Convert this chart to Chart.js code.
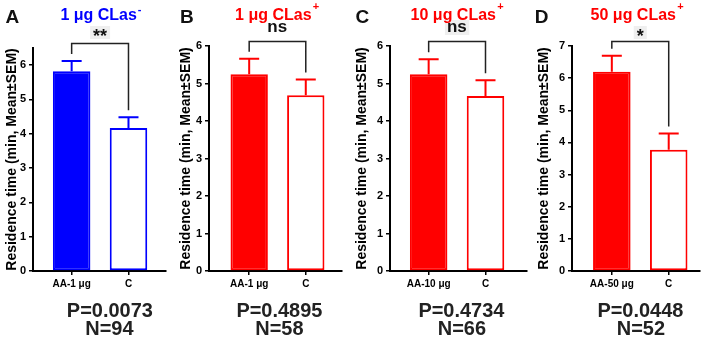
<!DOCTYPE html>
<html>
<head>
<meta charset="utf-8">
<script src="https://cdn.jsdelivr.net/npm/chart.js@4"></script>
<style>
html, body { margin: 0; padding: 0; background: #fff; }
#wrap { position: relative; width: 708px; height: 338px; overflow: hidden; }
#wrap canvas { position: absolute; top: 0; }
</style>
</head>
<body>
<div id="wrap"></div>
<script>
// values
var panelLetters = ['A', 'B', 'C', 'D'];
var titles = ['1 μg CLas', '1 μg CLas', '10 μg CLas', '50 μg CLas'];
var titleSup = ['-', '+', '+', '+'];
var groupLabels = [['AA-1 μg', 'C'], ['AA-1 μg', 'C'], ['AA-10 μg', 'C'], ['AA-50 μg', 'C']];
var means = [[5.82, 4.17], [5.25, 4.69], [5.25, 4.67], [6.20, 3.77]];
var sems = [[0.30, 0.31], [0.41, 0.42], [0.40, 0.42], [0.50, 0.51]];
var pValues = ['0.0073', '0.4895', '0.4734', '0.0448'];
var nValues = ['94', '58', '66', '52'];
var signif = ['**', 'ns', 'ns', '*'];
var yMax = [6.5, 6, 6, 7];

var colors = ['#0000ff', '#ff0000', '#ff0000', '#ff0000'];
var fam = "'Liberation Sans', Arial, Helvetica, sans-serif";

// where each panel sits on the page
var layout = [
	{ left: 0,   width: 180, axisL: 33,  axisR: 166, top: 48, xmin: 0.32, xmax: 2.66, yTitle: 12, letter: [12.5, 16.5], title: 101, pn: 110, box: true },
	{ left: 176, width: 180, axisL: 209, axisR: 342, top: 46, xmin: 0.29, xmax: 2.64, yTitle: 10, letter: [187, 16.7], title: 277, pn: 280, box: false },
	{ left: 352, width: 180, axisL: 390, axisR: 527, top: 46, xmin: 0.32, xmax: 2.73, yTitle: 10, letter: [362.5, 16.7], title: 457, pn: 462, box: true },
	{ left: 528, width: 180, axisL: 572, axisR: 700, top: 46, xmin: 0.30, xmax: 2.55, yTitle: 16, letter: [541.7, 16.7], title: 637, pn: 641, box: true }
];
var plotBottom = 271, xAxisH = 30;

Chart.defaults.font.family = fam;
Chart.defaults.color = '#000';

function centerText(ctx, txt, cx, cy, font, color, sx) {
	ctx.save();
	ctx.font = font;
	ctx.fillStyle = color;
	ctx.textAlign = 'left';
	ctx.textBaseline = 'alphabetic';
	var m = ctx.measureText(txt);
	ctx.translate(cx, cy);
	ctx.scale(sx || 1, 1);
	ctx.fillText(txt, -(m.actualBoundingBoxRight - m.actualBoundingBoxLeft) / 2,
		(m.actualBoundingBoxAscent - m.actualBoundingBoxDescent) / 2);
	ctx.restore();
	return m;
}

var decor = {
	id: 'decor',
	afterDraw: function (chart, args, opts) {
		var i = opts.idx, L = layout[i], ctx = chart.ctx, ox = L.left;
		var xs = chart.scales.x, ys = chart.scales.y, col = colors[i];
		var tops = [];

		// error bars (upper half only)
		ctx.save();
		ctx.strokeStyle = col;
		ctx.lineWidth = 2;
		for (var j = 0; j < 2; j++) {
			var x = xs.getPixelForValue(j + 1);
			var y0 = ys.getPixelForValue(means[i][j]);
			var y1 = ys.getPixelForValue(means[i][j] + sems[i][j]);
			tops.push(y1);
			ctx.beginPath();
			ctx.moveTo(x, y0); ctx.lineTo(x, y1);
			ctx.moveTo(x - 10, y1); ctx.lineTo(x + 10, y1);
			ctx.stroke();
		}
		ctx.restore();

		// significance bracket
		var bx1 = xs.getPixelForValue(1), bx2 = xs.getPixelForValue(2);
		var by = chart.chartArea.top - 4.5;

		var sx = (bx1 + bx2) / 2, sy = signif[i] === 'ns' ? 27.5 : 32.5;
		var sfont = signif[i] === 'ns' ? 'bold 17px ' + fam : 'bold 18px ' + fam;
		if (L.box) {
			ctx.save();
			ctx.font = sfont;
			var sm = ctx.measureText(signif[i]);
			var sw = sm.actualBoundingBoxRight + sm.actualBoundingBoxLeft;
			var sh = sm.actualBoundingBoxAscent + sm.actualBoundingBoxDescent;
			ctx.fillStyle = '#efefef';
			ctx.fillRect(sx - sw / 2 - 3, sy - sh / 2 - 3, sw + 6, sh + 6);
			ctx.restore();
		}
		centerText(ctx, signif[i], sx, sy, sfont, '#111');

		ctx.save();
		ctx.strokeStyle = '#222';
		ctx.lineWidth = 1.5;
		ctx.beginPath();
		ctx.moveTo(bx1, tops[0] - 7);
		ctx.lineTo(bx1, by);
		ctx.lineTo(bx2, by);
		ctx.lineTo(bx2, tops[1] - 7);
		ctx.stroke();
		ctx.restore();

		// panel letter
		centerText(ctx, panelLetters[i], L.letter[0] - ox, L.letter[1], 'bold 19px ' + fam, '#111');

		// coloured title with superscript
		ctx.save();
		ctx.font = 'bold 16px ' + fam;
		var mw = ctx.measureText(titles[i]).width;
		ctx.font = 'bold 11px ' + fam;
		var supw = ctx.measureText(titleSup[i]).width;
		var tx = L.title - ox - (mw + supw + 1) / 2;
		ctx.fillStyle = col;
		ctx.textAlign = 'left';
		ctx.textBaseline = 'alphabetic';
		ctx.font = 'bold 16px ' + fam;
		ctx.fillText(titles[i], tx, 19.5);
		ctx.restore();
		centerText(ctx, titleSup[i], tx + mw + 1 + supw / 2, titleSup[i] === '+' ? 5.5 : 10, 'bold 11px ' + fam, col);

		// P and N under the axis
		centerText(ctx, 'P=' + pValues[i], L.pn - ox, 310, 'bold 21px ' + fam, '#222', 0.95);
		centerText(ctx, 'N=' + nValues[i], L.pn - ox, 327.5, 'bold 21px ' + fam, '#222', 0.95);
	}
};

var wrap = document.getElementById('wrap');

panelLetters.forEach(function (p, i) {
	var L = layout[i];
	var cv = document.createElement('canvas');
	cv.width = L.width;
	cv.height = 338;
	cv.style.left = L.left + 'px';
	cv.style.width = L.width + 'px';
	cv.style.height = '338px';
	wrap.appendChild(cv);

	var axisOpts = {
		grid: { display: true, offset: false, drawOnChartArea: false, drawTicks: true, tickLength: 4, color: '#000', lineWidth: 1.5 },
		border: { display: true, color: '#000', width: 2 }
	};

	new Chart(cv.getContext('2d'), {
		type: 'bar',
		data: {
			datasets: [{
				data: means[i].map(function (m, j) { return { x: j + 1, y: m }; }),
				backgroundColor: [colors[i], '#ffffff'],
				borderColor: colors[i],
				borderWidth: 2,
				borderSkipped: false,
				barPercentage: 0.66,
				categoryPercentage: 1
			}]
		},
		options: {
			responsive: false,
			animation: false,
			devicePixelRatio: 1,
			layout: {
				padding: {
					left: 0,
					top: L.top,
					right: L.width - (L.axisR - L.left),
					bottom: 338 - plotBottom - xAxisH
				}
			},
			plugins: {
				legend: { display: false },
				tooltip: { enabled: false },
				decor: { idx: i }
			},
			scales: {
				x: Object.assign({
					type: 'linear',
					offset: false,
					min: L.xmin,
					max: L.xmax,
					afterBuildTicks: function (s) { s.ticks = [{ value: 1 }, { value: 2 }]; },
					afterFit: function (s) { s.height = xAxisH; },
					ticks: {
						includeBounds: false,
						autoSkip: false,
						maxRotation: 0,
						padding: 3,
						color: '#000',
						font: { size: 10, weight: 'bold' },
						callback: function (v) { return groupLabels[i][v - 1]; }
					}
				}, axisOpts),
				y: Object.assign({
					min: 0,
					max: yMax[i],
					afterFit: function (s) { s.width = L.axisL - L.left; },
					ticks: {
						stepSize: 1,
						includeBounds: false,
						padding: 3,
						color: '#000',
						font: { size: 11, weight: 'bold' }
					},
					title: {
						display: true,
						text: 'Residence time (min, Mean±SEM)',
						color: '#000',
						font: { size: 14, weight: 'bold' },
						padding: { top: L.yTitle - 8.4, bottom: 0 }
					}
				}, axisOpts)
			}
		},
		plugins: [decor]
	});
});
</script>
</body>
</html>
